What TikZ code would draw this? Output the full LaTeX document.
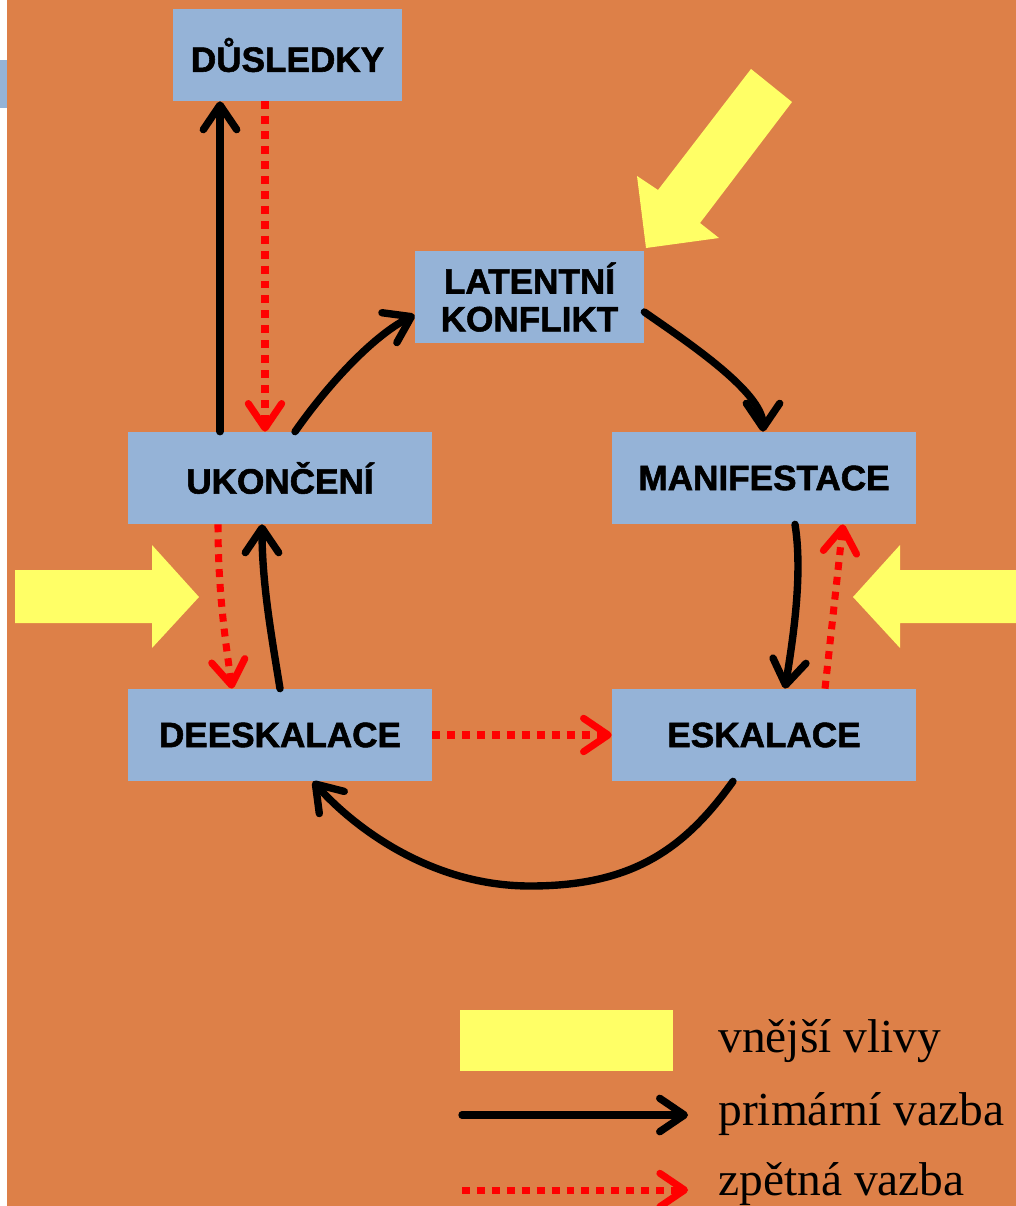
\documentclass[tikz,border=0pt]{standalone}
\usepackage{fontspec}
\setmainfont{Liberation Serif}
\setsansfont{Liberation Sans}
\newfontfamily\boxfont{Liberation Sans}[BoldFeatures={FakeBold=1.6}]
\usetikzlibrary{arrows.meta,calc}
\definecolor{pozadi}{RGB}{221,128,72}
\definecolor{modra}{RGB}{149,179,215}
\definecolor{zluta}{RGB}{255,255,102}
\tikzset{
    box/.style={fill=modra, minimum width=6.08cm, minimum height=1.84cm, inner sep=0pt,
        align=center, font=\boxfont\bfseries\fontsize{20}{21.5}\selectfont},
    uzkybox/.style={box, minimum width=4.58cm},
    primarni/.style={line width=4.2pt, line cap=round,
        -{Straight Barb[length=14pt,width=19pt,round]}},
    zpetna/.style={red, line width=4pt, dash pattern=on 4.5pt off 4pt,
        -{Straight Barb[length=14pt,width=19pt,round]}},
    popis/.style={anchor=base west, inner sep=0pt, font=\fontsize{27}{30}\selectfont},
}

\begin{document}
\begin{tikzpicture}[x=0.02cm, y=-0.02cm]
    \useasboundingbox (0,0) rectangle (1016,1206);
    \fill[white] (0,0) rectangle (1016,1206);
    \fill[pozadi] (7,0) rectangle (1016,1206);
    \fill[modra] (0,60) rectangle (7,108);

    % Vnejsi vlivy
    \fill[zluta] (751,69) -- (792,102) -- (700,223) -- (719,238) -- (646,248) -- (637,176) -- (658,190) -- cycle;
    \fill[zluta] (15,570) -- (152,570) -- (152,545) -- (199,597) -- (152,648) -- (152,623) -- (15,623) -- cycle;
    \fill[zluta] (1016,570) -- (900,570) -- (900,545) -- (853,597) -- (900,648) -- (900,623) -- (1016,623) -- cycle;

    % Faze
    \node[uzkybox] (dusledky) at (287.5,55) {DŮSLEDKY};
    \node[uzkybox] (latentni) at (529.5,297) {LATENTNÍ\\KONFLIKT};
    \node[box] (ukonceni) at (280,478) {UKONČENÍ};
    \node[box] (manifestace) at (764,478) {MANIFESTACE};
    \node[box] (deeskalace) at (280,735) {DEESKALACE};
    \node[box] (eskalace) at (764,735) {ESKALACE};
    \coordinate (dno) at (530,886);

    % Primarni vazby
    \draw[primarni] ($(ukonceni.north)+(-60,0)$) -- ($(dusledky.south)+(-67.5,0)$);
    \draw[primarni] ($(ukonceni.north)+(15,0)$) .. controls +(35,-50) and +(-40,20) .. ($(latentni.west)+(0,18)$);
    \draw[primarni] ($(latentni.east)+(0,15)$) .. controls +(40,28) and +(0,-40) .. ($(manifestace.north)+(-1,0)$);
    \draw[primarni] ($(manifestace.south)+(31,0)$) .. controls +(8,50) and +(8,-50) .. ($(eskalace.north)+(21,0)$);
    \draw[primarni] ($(eskalace.south)+(-31,0)$) .. controls +(-50,70) and +(100,0) .. (dno)
        .. controls +(-100,0) and +(40,45) .. ($(deeskalace.south)+(33,0)$);
    \draw[primarni] (deeskalace.north) .. controls +(-8,-50) and +(0,60) .. ($(ukonceni.south)+(-18,0)$);

    % Zpetne vazby
    \draw[zpetna] ($(dusledky.south)+(-22.5,0)$) -- ($(ukonceni.north)+(-15,0)$);
    \draw[zpetna] ($(eskalace.north)+(61,0)$) -- ($(manifestace.south)+(79,0)$);
    \draw[zpetna] (deeskalace.east) -- (eskalace.west);
    \draw[zpetna] ($(ukonceni.south)+(-62,0)$) .. controls +(0,70) and +(-6,-45) .. ($(deeskalace.north)+(-48,0)$);

    % Legenda
    \node[fill=zluta, minimum width=4.26cm, minimum height=1.22cm, inner sep=0pt] (legvliv) at (566.5,1040.5) {};
    \coordinate (legp1) at (462,1115);
    \coordinate (legp2) at (688,1115);
    \coordinate (legz1) at (462,1190);
    \coordinate (legz2) at (688,1190);
    \draw[primarni] (legp1) -- (legp2);
    \draw[zpetna] (legz1) -- (legz2);
    \node[popis] (tvliv) at (718,1052) {vnější vlivy};
    \node[popis] (tprim) at (718,1125) {primární vazba};
    \node[popis] (tzpet) at (718,1195) {zpětná vazba};
\end{tikzpicture}
\end{document}
